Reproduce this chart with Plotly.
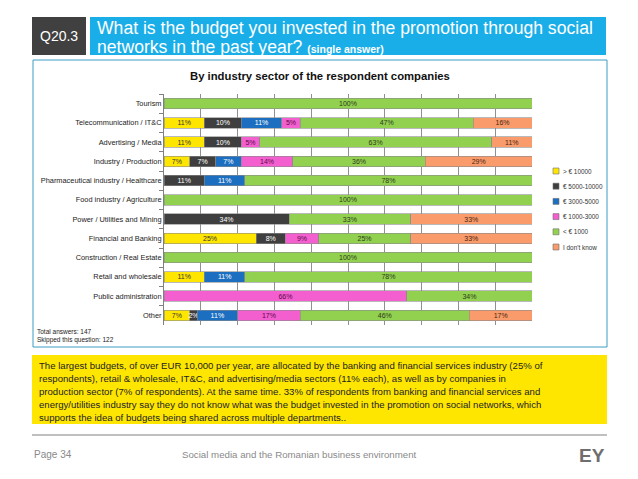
import plotly.graph_objects as go

W, H = 638, 479

# Rows of the chart, top to bottom
sectors = [
    "Tourism",
    "Telecommunication / IT&C",
    "Advertising / Media",
    "Industry / Production",
    "Pharmaceutical industry / Healthcare",
    "Food industry / Agriculture",
    "Power / Utilities and Mining",
    "Financial and Banking",
    "Construction / Real Estate",
    "Retail and wholesale",
    "Public administration",
    "Other",
]

# Budget brackets (legend) and the share of answers in each, per sector (%)
brackets = ["> € 10000", "€ 5000-10000", "€ 3000-5000", "€ 1000-3000", "< € 1000", "I don't know"]
over_10000 = [None, 11, 11, 7, None, None, None, 25, None, 11, None, 7]
eur_5000_10000 = [None, 10, 10, 7, 11, None, 34, 8, None, None, None, 2]
eur_3000_5000 = [None, 11, None, 7, 11, None, None, None, None, 11, None, 11]
eur_1000_3000 = [None, 5, 5, 14, None, None, None, 9, None, None, 66, 17]
under_1000 = [100, 47, 63, 36, 78, 100, 33, 25, 100, 78, 34, 46]
dont_know = [None, 16, 11, 29, None, None, 33, 33, None, None, None, 17]

series = [over_10000, eur_5000_10000, eur_3000_5000, eur_1000_3000, under_1000, dont_know]
colors = ["#FFE600", "#3F3F3F", "#1C6FC0", "#F45FCF", "#92D050", "#F99B6B"]
text_colors = ["#333333", "#FFFFFF", "#FFFFFF", "#5A0A48", "#2B3A1A", "#4A2410"]

FONT = "Liberation Sans, Arial, sans-serif"


def px(x):
    return x / W


def py(y):
    return 1 - y / H


fig = go.Figure()

for name, vals, col, tcol in zip(brackets, series, colors, text_colors):
    fig.add_trace(go.Bar(
        y=sectors,
        x=vals,
        name=name,
        orientation="h",
        marker=dict(color=col, line=dict(color="#8A8A8A", width=0.6)),
        texttemplate="%{x}%",
        textposition="inside",
        insidetextanchor="middle",
        textangle=0,
        constraintext="none",
        textfont=dict(family=FONT, size=7, color=tcol),
        hoverinfo="skip",
        showlegend=False,
    ))

fig.update_layout(
    width=W,
    height=H,
    margin=dict(l=0, r=0, t=0, b=0),
    paper_bgcolor="white",
    plot_bgcolor="white",
    barmode="stack",
    bargap=0.46,
    uniformtext=dict(mode="show", minsize=7),
    xaxis=dict(
        domain=[px(164), px(532)],
        range=[0, 100],
        dtick=10,
        showgrid=True,
        gridcolor="#909090",
        gridwidth=1,
        showticklabels=False,
        zeroline=False,
        showline=False,
    ),
    yaxis=dict(
        domain=[py(325), py(94)],
        autorange="reversed",
        tickson="boundaries",
        ticks="outside",
        ticklen=4,
        tickcolor="#808080",
        showline=True,
        linecolor="#808080",
        linewidth=1,
        showgrid=False,
        automargin=False,
        tickfont=dict(family=FONT, size=7.4, color="#222222"),
    ),
)

shapes = [
    # header boxes
    dict(type="rect", xref="paper", yref="paper", x0=px(32), x1=px(86), y0=py(55), y1=py(17),
         fillcolor="#404040", line=dict(width=0), layer="below"),
    dict(type="rect", xref="paper", yref="paper", x0=px(90), x1=px(606), y0=py(55), y1=py(17),
         fillcolor="#1AAEE8", line=dict(width=0), layer="below"),
    # chart frame
    dict(type="rect", xref="paper", yref="paper", x0=px(33), x1=px(607), y0=py(347), y1=py(60),
         fillcolor="rgba(0,0,0,0)", line=dict(color="#3A9CC4", width=1)),
    # yellow comment box
    dict(type="rect", xref="paper", yref="paper", x0=px(32), x1=px(607), y0=py(424), y1=py(355),
         fillcolor="#FFE600", line=dict(width=0), layer="below"),
    # footer rule
    dict(type="line", xref="paper", yref="paper", x0=px(32), x1=px(607), y0=py(435), y1=py(435),
         line=dict(color="#808080", width=1)),
]

annotations = []

# hand-placed legend (plotly's own legend rows are too tall for this layout)
for i, (name, col) in enumerate(zip(brackets, colors)):
    yc = 171 + i * 15.2
    shapes.append(dict(type="rect", xref="paper", yref="paper",
                       x0=px(553), x1=px(559), y0=py(yc + 3), y1=py(yc - 3),
                       fillcolor=col, line=dict(color="#707070", width=0.6)))
    annotations.append(dict(text=name, x=px(561), y=py(yc), xanchor="left",
                            font=dict(family=FONT, size=6.4, color="#333333")))

fig.update_layout(shapes=shapes)

comment_lines = [
    "The largest budgets, of over EUR 10,000 per year, are allocated by the banking and financial services industry (25% of",
    "respondents), retail & wholesale, IT&C, and advertising/media sectors (11% each), as well as by companies in",
    "production sector (7% of respondents). At the same time. 33% of respondents from banking and financial services and",
    "energy/utilities industry say they do not know what was the budget invested in the promotion on social networks, which",
    "supports the idea of budgets being shared across multiple departments..",
]

annotations += [
    dict(text="Q20.3", x=px(59), y=py(36), font=dict(family=FONT, size=14, color="white")),
    dict(text="What is the budget you invested in the promotion through social",
         x=px(95), y=py(28), xanchor="left", font=dict(family=FONT, size=17.6, color="white")),
    dict(text="networks in the past year? <b><span style='font-size:10.5px'>(single answer)</span></b>",
         x=px(95), y=py(47), xanchor="left", font=dict(family=FONT, size=17.6, color="white")),
    dict(text="<b>By industry sector of the respondent companies</b>", x=px(320), y=py(76),
         font=dict(family=FONT, size=11.3, color="#111111")),
    dict(text="Total answers: 147<br>Skipped this question: 122", x=px(35), y=py(336),
         xanchor="left", align="left", font=dict(family=FONT, size=6.5, color="#222222")),
    dict(text="Page 34", x=px(32), y=py(454), xanchor="left",
         font=dict(family=FONT, size=10, color="#8A8A8A")),
    dict(text="Social media and the Romanian business environment", x=px(180), y=py(454), xanchor="left",
         font=dict(family=FONT, size=9.7, color="#8A8A8A")),
    dict(text="<b>EY</b>", x=px(607), y=py(455), xanchor="right",
         font=dict(family=FONT, size=19, color="#6E6E6E")),
]
for i, line in enumerate(comment_lines):
    annotations.append(dict(text=line, x=px(37), y=py(365 + i * 13), xanchor="left",
                            font=dict(family=FONT, size=9.6, color="#222222")))

for a in annotations:
    a.setdefault("xref", "paper")
    a.setdefault("yref", "paper")
    a.setdefault("showarrow", False)
    a.setdefault("xanchor", "center")
    a.setdefault("yanchor", "middle")
fig.update_layout(annotations=annotations)

# drop the browser's default body margin so the figure sits at the page corner
fig.write_html("out.html", config={"displayModeBar": False},
               post_script="document.body.style.margin='0';")
